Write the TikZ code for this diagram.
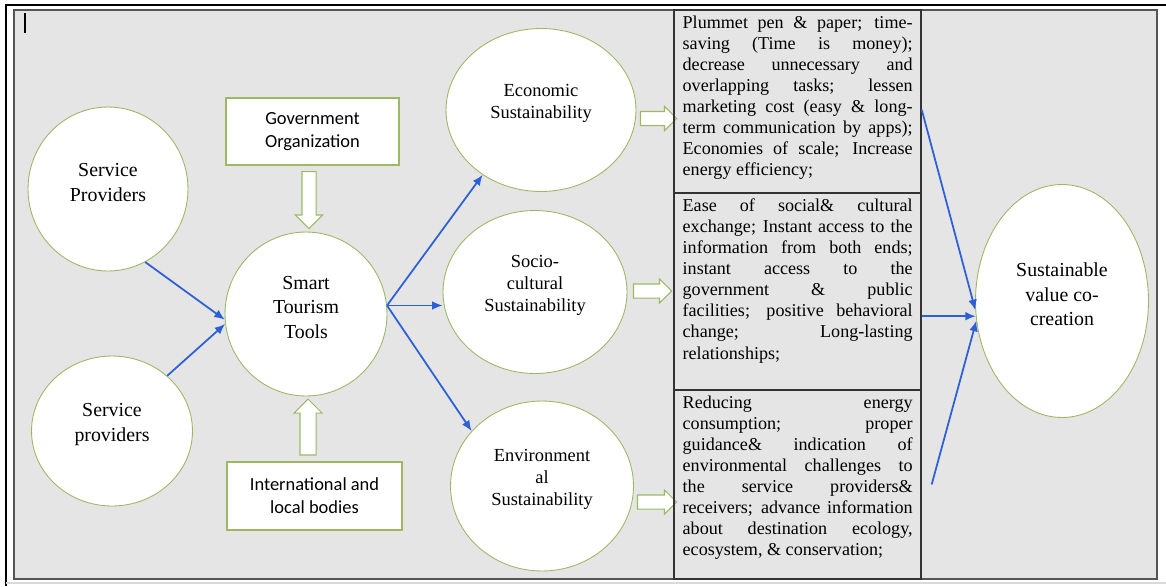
\documentclass[tikz,border=0pt]{standalone}
\usepackage{fontspec}
\setmainfont{Liberation Serif}
\setsansfont{Carlito}
\usetikzlibrary{positioning,calc,shapes.geometric,shapes.arrows,arrows.meta}
\definecolor{panelgray}{RGB}{229,229,229}
\definecolor{framegray}{RGB}{85,85,85}
\definecolor{bubbleline}{RGB}{155,185,100}
\definecolor{linkblue}{RGB}{45,95,215}
\tikzset{
  bubble/.style={ellipse, draw=bubbleline, line width=0.5pt, fill=white, inner sep=0pt},
  bigtext/.style={font=\rmfamily\fontsize{11.3}{14}\selectfont, align=center, yshift=0.13cm},
  midtext/.style={font=\rmfamily\fontsize{10.5}{12.5}\selectfont, align=center, yshift=0.13cm},
  agency/.style={rectangle, draw=bubbleline, line width=0.6pt, fill=white, align=center,
    font=\sffamily\fontsize{10.5}{13}\selectfont},
  outcome/.style={rectangle, draw=black!80, line width=0.8pt, inner sep=0pt},
  gains/.style={anchor=north west, inner sep=0pt, text width=4.6cm, align=justify,
    font=\rmfamily\fontsize{10.3}{12}\selectfont},
  push/.style={single arrow, draw=bubbleline, line width=0.6pt, fill=white},
  link/.style={draw=linkblue, line width=1pt, -{Latex[length=6pt,width=5pt]}}
}
\begin{document}
\begin{tikzpicture}[x=0.02cm, y=-0.02cm]
  \useasboundingbox (0,0) rectangle (1166,586);
  \fill[white] (0,0) rectangle (1166,586);
  \draw[line width=1.5pt] (6,586) -- (6,5) -- (1166,5);
  \draw[black!15, line width=0.6pt] (6,583) -- (1166,583);
  \draw[framegray, line width=0.8pt, fill=panelgray] (14,10) rectangle (1157,579);
  \draw[line width=0.6pt] (25,13) -- (25,33);

  % actors and tools
  \node[bubble, minimum width=3.2cm, minimum height=3.28cm,
        label={[bigtext]center:Service\\Providers}] (prov) at (108,189) {};
  \node[bubble, minimum width=3.22cm, minimum height=3cm,
        label={[bigtext]center:Service\\providers}] (prov2) at (112,431) {};
  \node[bubble, minimum width=3.24cm, minimum height=3.28cm,
        label={[bigtext]center:Smart\\Tourism\\Tools}] (smart) at (306,314) {};
  \node[agency, minimum width=3.46cm, minimum height=1.34cm] (gov) at (312.5,131.5)
        {Government\\Organization};
  \node[agency, minimum width=3.5cm, minimum height=1.36cm] (intl) at (314.5,496)
        {International and\\local bodies};
  \node[push, shape border rotate=270, minimum height=1.14cm, inner sep=0.13cm,
        single arrow head extend=0.13cm] (govpush) at (309,196.5) {};
  \node[push, shape border rotate=90, minimum height=1.12cm, inner sep=0.15cm,
        single arrow head extend=0.12cm] (intlpush) at (308,431) {};

  % three pillars
  \node[bubble, minimum width=3.8cm, minimum height=3.26cm,
        label={[midtext]center:Economic\\Sustainability}] (eco) at (541,110) {};
  \node[bubble, minimum width=3.68cm, minimum height=3.26cm,
        label={[midtext]center:Socio-\\cultural\\Sustainability}] (socio) at (535,292) {};
  \node[bubble, minimum width=3.66cm, minimum height=3.4cm,
        label={[midtext]center:Environment\\al\\Sustainability}] (env) at (542,486) {};
  \node[push, minimum height=0.72cm, inner sep=0.13cm,
        single arrow head extend=0.1cm] (ecopush) at (655,118.5) {};
  \node[push, minimum height=0.76cm, inner sep=0.13cm,
        single arrow head extend=0.1cm] (socpush) at (649,291) {};
  \node[push, minimum height=0.78cm, inner sep=0.13cm,
        single arrow head extend=0.1cm] (envpush) at (653.5,502) {};

  % outcomes column
  \node[outcome, minimum width=4.94cm, minimum height=3.66cm] (ecobox) at (797.5,101.5) {};
  \node[outcome, minimum width=4.94cm, minimum height=3.94cm] (socbox) at (797.5,291.5) {};
  \node[outcome, minimum width=4.94cm, minimum height=3.78cm] (envbox) at (797.5,484.5) {};
  \node[gains] (ecotext) at ([xshift=0.18cm,yshift=-0.12cm]ecobox.north west)
    {Plummet pen \& paper; time-\linebreak saving (Time is money);\linebreak
     decrease unnecessary and\linebreak overlapping tasks; lessen\linebreak
     marketing cost (easy \& long-\linebreak term communication by apps);\linebreak
     Economies of scale; Increase\linebreak energy efficiency;};
  \node[gains] (soctext) at ([xshift=0.18cm,yshift=-0.12cm]socbox.north west)
    {Ease of social\& cultural\linebreak exchange; Instant access to the\linebreak
     information from both ends;\linebreak instant access to the\linebreak
     government \& public\linebreak facilities; positive behavioral\linebreak
     change; Long-lasting\linebreak relationships;};
  \node[gains] (envtext) at ([xshift=0.18cm,yshift=-0.12cm]envbox.north west)
    {Reducing energy\linebreak consumption; proper\linebreak
     guidance\& indication of\linebreak environmental challenges to\linebreak
     the service providers\&\linebreak receivers; advance information\linebreak
     about destination ecology,\linebreak ecosystem, \& conservation;};

  \node[bubble, minimum width=3.46cm, minimum height=4.66cm,
        label={[bigtext]center:Sustainable\\value co-\\creation}] (value) at (1062,301) {};

  \path
    (prov.297) edge[link] (smart.184)
    (prov2.45) edge[link] (smart.187)
    (smart.6) edge[link] (eco.228)
    (smart.6) edge[link] (smart.6 -| socio.west)
    (smart.6) edge[link] (env.142)
    ([yshift=-0.16cm]ecobox.east) edge[link] (value.186)
    (value.190 -| socbox.east) edge[link] (value.190)
    ([xshift=0.2cm]envbox.east) edge[link] (value.193);
\end{tikzpicture}
\end{document}
